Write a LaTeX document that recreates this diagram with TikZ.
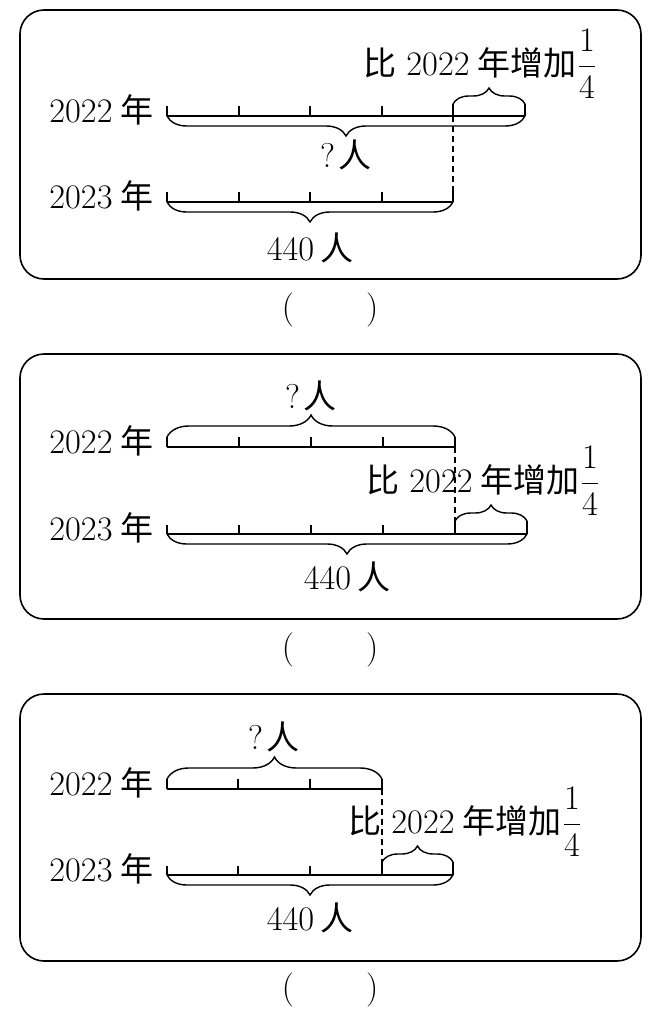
\documentclass[tikz,border=0pt]{standalone}
\usepackage{fix-cm}
\usepackage{amsmath}
\usepackage{fontspec}
\newfontfamily\cjk{Noto Sans CJK SC}[Scale=0.96]
\usetikzlibrary{decorations.pathreplacing}

\newcommand{\zh}[1]{{\cjk #1}}
\newcommand{\yr}[1]{#1\hspace{4pt}\zh{年}}
\newcommand{\more}{\zh{比}\hspace{5pt}\yr{2022}\zh{增加}$\dfrac{1}{4}$}

\begin{document}
\begin{tikzpicture}[
  x=0.5pt,y=-0.5pt,
  font=\fontsize{17.2}{20}\selectfont,
  panel/.style={draw,line width=0.8pt,rounded corners=12pt},
  seg/.style={line width=0.75pt},
  notch/.style={line width=0.7pt},
  guide/.style={line width=0.7pt,dash pattern=on 3pt off 2pt},
  bigbrace/.style={line width=0.7pt,decorate,decoration={brace,amplitude=10pt}},
  topbrace/.style={line width=0.7pt,decorate,decoration={brace,amplitude=11pt}},
  smallbrace/.style={line width=0.7pt,decorate,decoration={brace,amplitude=8pt}},
  yrlab/.style={anchor=base east,inner sep=0pt},
  note/.style={anchor=base west,inner sep=0pt},
  qty/.style={inner sep=0pt},
]
\useasboundingbox (0,0) rectangle (658,1012);

%% panel 1
\draw[panel] (20,10) rectangle (641,279);
\node[yrlab] (p1y1) at (154,122) {\yr{2022}};
\node[yrlab] (p1y2) at (154,208) {\yr{2023}};
\coordinate (p1a0) at (167,116);
\coordinate (p1a4) at (453,116);
\coordinate (p1a5) at (525,116);
\coordinate (p1b0) at (167,202);
\coordinate (p1b4) at (453,202);
\draw[seg] (p1a0) -- (p1a5);
\draw[seg] (p1b0) -- (p1b4);
\foreach \x in {167,239,310,382} {
  \draw[notch] (\x,116) -- ++(0,-10);
  \draw[notch] (\x,202) -- ++(0,-10);
}
\draw[notch] (p1b4) -- ++(0,-10);
\draw[notch] (p1a4) -- ++(0,-12) coordinate (p1a4u);
\draw[notch] (p1a5) -- ++(0,-12) coordinate (p1a5u);
\draw[smallbrace] (p1a4u) -- (p1a5u);
\draw[guide] (p1a4) -- (p1b4);
\draw[bigbrace,decoration={mirror}] (p1a0) -- (p1a5);
\draw[bigbrace,decoration={mirror}] (p1b0) -- (p1b4);
\node[qty] (p1q) at (346,155) {?\hspace{2pt}\zh{人}};
\node[qty] (p1n) at (310,248) {440\hspace{3pt}\zh{人}};
\node[note] (p1t) at (363,75) {\more};
\node (p1k) at (330,310) {(\hspace{36pt})};

%% panel 2
\draw[panel] (20,354) rectangle (641,619);
\node[yrlab] (p2y1) at (154,453) {\yr{2022}};
\node[yrlab] (p2y2) at (154,540) {\yr{2023}};
\coordinate (p2a0) at (167,447);
\coordinate (p2a4) at (455,447);
\coordinate (p2b0) at (167,534);
\coordinate (p2b4) at (455,534);
\coordinate (p2b5) at (527,534);
\draw[seg] (p2a0) -- (p2a4);
\draw[seg] (p2b0) -- (p2b5);
\foreach \x in {167,239,311,383} {
  \draw[notch] (\x,447) -- ++(0,-10);
  \draw[notch] (\x,534) -- ++(0,-9);
}
\draw[notch] (p2a4) -- ++(0,-10);
\draw[topbrace] (167,437) -- (455,437);
\draw[notch] (p2b4) -- ++(0,-13) coordinate (p2b4u);
\draw[notch] (p2b5) -- ++(0,-13) coordinate (p2b5u);
\draw[smallbrace] (p2b4u) -- (p2b5u);
\draw[guide] (p2a4) -- (p2b4);
\draw[bigbrace,decoration={mirror}] (p2b0) -- (p2b5);
\node[qty] (p2q) at (311,396) {?\hspace{2pt}\zh{人}};
\node[qty] (p2n) at (347,577) {440\hspace{3pt}\zh{人}};
\node[note] (p2t) at (366,492) {\more};
\node (p2k) at (330,650) {(\hspace{36pt})};

%% panel 3
\draw[panel] (20,694) rectangle (641,961);
\node[yrlab] (p3y1) at (154,795) {\yr{2022}};
\node[yrlab] (p3y2) at (154,881) {\yr{2023}};
\coordinate (p3a0) at (167,789);
\coordinate (p3a3) at (382,789);
\coordinate (p3b0) at (167,875);
\coordinate (p3b3) at (382,875);
\coordinate (p3b4) at (453,875);
\draw[seg] (p3a0) -- (p3a3);
\draw[seg] (p3b0) -- (p3b4);
\foreach \x in {167,238,310} {
  \draw[notch] (\x,789) -- ++(0,-10);
  \draw[notch] (\x,875) -- ++(0,-9);
}
\draw[notch] (p3a3) -- ++(0,-10);
\draw[topbrace] (167,779) -- (382,779);
\draw[notch] (p3b3) -- ++(0,-13) coordinate (p3b3u);
\draw[notch] (p3b4) -- ++(0,-13) coordinate (p3b4u);
\draw[smallbrace] (p3b3u) -- (p3b4u);
\draw[guide] (p3a3) -- (p3b3);
\draw[bigbrace,decoration={mirror}] (p3b0) -- (p3b4);
\node[qty] (p3q) at (274,737) {?\hspace{2pt}\zh{人}};
\node[qty] (p3n) at (310,918) {440\hspace{3pt}\zh{人}};
\node[note] (p3t) at (348,833) {\more};
\node (p3k) at (330,990) {(\hspace{36pt})};
\end{tikzpicture}
\end{document}
